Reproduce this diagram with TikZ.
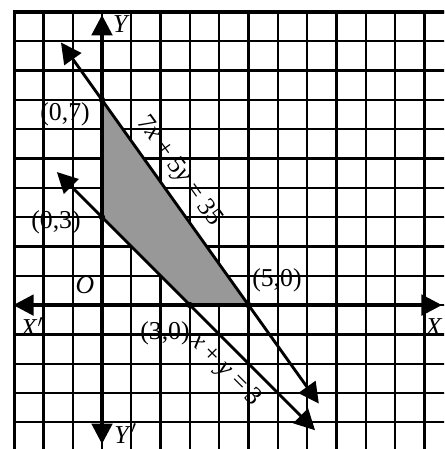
\documentclass[tikz,border=0pt]{standalone}
\usepackage{fontspec}
\setmainfont{Liberation Serif}
\usetikzlibrary{arrows.meta}
\definecolor{RegionGray}{RGB}{152,152,152}
\tikzset{lbl/.style={font=\fontsize{25}{28}\selectfont,inner sep=0pt},
  pt/.style={circle,fill=black,inner sep=0pt,minimum size=2.2mm}}

\begin{document}
\begin{tikzpicture}[>={Triangle[length=7mm,width=7mm]}]
\useasboundingbox (-3.48,-4.91) rectangle (11.67,10.41);
\clip (-3.48,-4.91) rectangle (11.67,10.41);
\fill[white] (-3.48,-4.91) rectangle (11.67,10.41);
% graph paper
\draw[line width=2.2pt] (-3,-5) grid (12,10);
\draw[line width=3pt] (-3,-5) -- (-3,10) -- (12,10);
% points
\coordinate (p07) at (0,7);
\coordinate (p03) at (0,3);
\coordinate (p30) at (3,0);
\coordinate (p50) at (5,0);
% feasible region
\fill[RegionGray] (p07) -- (p50) -- (p30) -- (p03) -- cycle;
% axes
\coordinate (xl) at (-3.03,0);
\coordinate (xr) at (11.6,0);
\coordinate (yt) at (0,9.9);
\coordinate (yb) at (0,-4.74);
\draw[<->,line width=3.6pt] (xl) -- (xr);
\draw[<->,line width=3.6pt] (yb) -- (yt);
% the two lines
\coordinate (a1) at (-1.4,8.96);
\coordinate (a2) at (7.4,-3.36);
\coordinate (b1) at (-1.54,4.54);
\coordinate (b2) at (7.27,-4.27);
\draw[<->,line width=2.8pt] (a1) -- (a2);
\draw[<->,line width=2.8pt] (b1) -- (b2);
\foreach \p in {p07,p03,p30,p50} \node[pt] at (\p) {};
% labels
\node[lbl] (l07) at (-1.26,6.5) {(0,7)};
\node[lbl] (l03) at (-1.57,2.83) {(0,3)};
\node[lbl] (l30) at (2.15,-0.96) {(3,0)};
\node[lbl] (l50) at (5.97,0.85) {(5,0)};
\node[lbl] (o) at (-0.58,0.68) {\textit{O}};
\node[lbl] (lx) at (11.33,-0.75) {\textit{X}};
\node[lbl] (lxp) at (-2.39,-0.75) {\textit{X}$'$};
\node[lbl] (ly) at (0.66,9.6) {\textit{Y}};
\node[lbl] (lyp) at (0.8,-4.38) {\textit{Y}$'$};
\node[lbl,rotate=-54.46] (la) at (2.62,4.56) {7\textit{x} + 5\textit{y} = 35};
\node[lbl,rotate=-45] (lb) at (4.2,-2.22) {\textit{x} + \textit{y} = 3};
\end{tikzpicture}
\end{document}
